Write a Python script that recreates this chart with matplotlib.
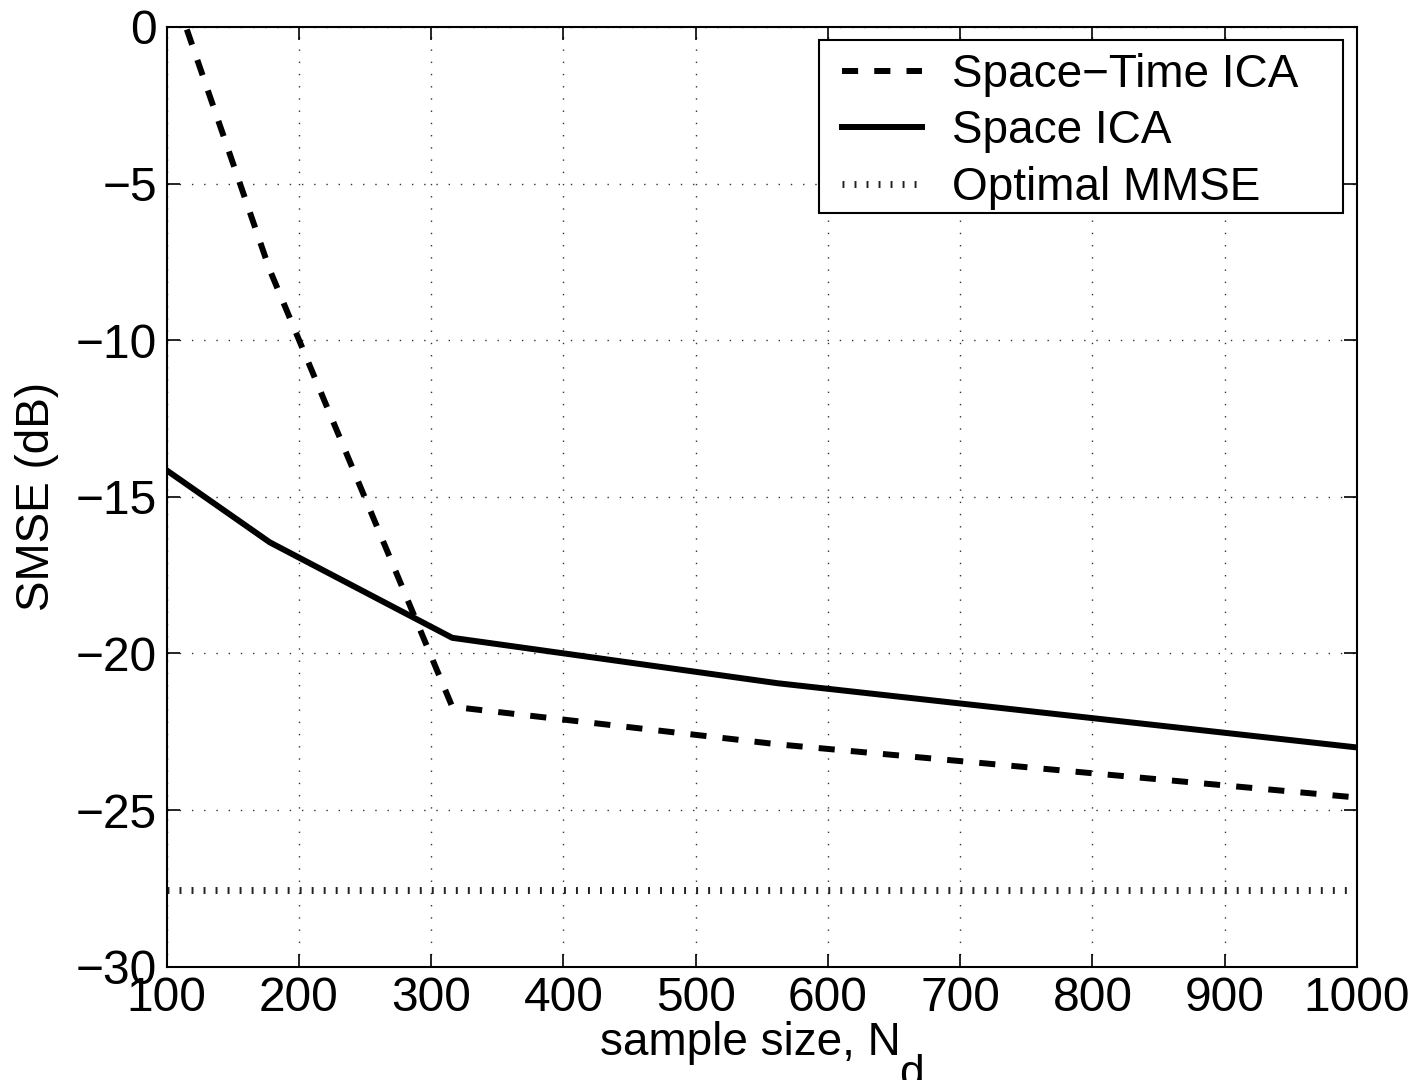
import numpy as np
import matplotlib
matplotlib.use("Agg")
import matplotlib.pyplot as plt
from matplotlib.patches import Rectangle

plt.rcParams["font.family"] = ["Liberation Sans", "DejaVu Sans"]

# sample sizes (log-spaced, 10^2 .. 10^3)
n_samples = [100, 178, 316, 562, 1000]
space_time_ica = [1.8, -7.75, -21.7, -22.9, -24.6]
space_ica = [-14.15, -16.45, -19.5, -20.95, -23.0]
optimal_mmse = -27.55

W, H = 1416, 1080
fig = plt.figure(figsize=(W / 100, H / 100), dpi=100)
ax = fig.add_axes([0.1176, 0.1049, 0.8407, 0.8701])

ax.plot(n_samples, space_time_ica, color="black", lw=4.3,
        linestyle=(0, (2.7, 2.7)), dash_capstyle="butt", label="Space\u2212Time ICA")
ax.plot(n_samples, space_ica, color="black", lw=4.3, label="Space ICA")
ax.plot([100, 1000], [optimal_mmse, optimal_mmse], color="#222222", lw=5.0,
        linestyle=(0, (0.28, 1.45)), dash_capstyle="butt", label="Optimal MMSE")

ax.set_xlim(100, 1000)
ax.set_ylim(-30, 0)
ax.set_xticks(range(100, 1001, 100))
ax.set_yticks(range(-30, 1, 5))
ax.grid(True, color="#333333", lw=1.0, linestyle=(0, (1, 7.8)))

for s in ax.spines.values():
    s.set_linewidth(1.5)
ax.tick_params(direction="in", length=9.5, width=1.2, top=True, right=True,
               labelsize=34.5, pad=7)

ax.set_ylabel("SMSE (dB)", fontsize=33, labelpad=12)

# x label with a low subscript, as in the original
fig.text(750 / W, 1 - 1055 / H, "sample size, N", fontsize=33,
         ha="center", va="baseline")
fig.text(899 / W, 1 - 1054 / H, "d", fontsize=32, ha="left", va="top")

# legend: frame drawn separately to get the wide right margin
box = Rectangle((819 / W, 1 - 213 / H), 524 / W, 173 / H,
                transform=fig.transFigure, facecolor="white",
                edgecolor="black", lw=1.5, zorder=4, clip_on=False)
ax.add_patch(box)
leg = ax.legend(loc="upper left", fontsize=33, frameon=False,
                bbox_to_anchor=(842 / W, 1 - 53 / H), bbox_transform=fig.transFigure,
                borderpad=0, borderaxespad=0, handlelength=1.75,
                handletextpad=0.65, labelspacing=0.27)
leg.set_zorder(5)

fig.savefig("out.png", dpi=100)
